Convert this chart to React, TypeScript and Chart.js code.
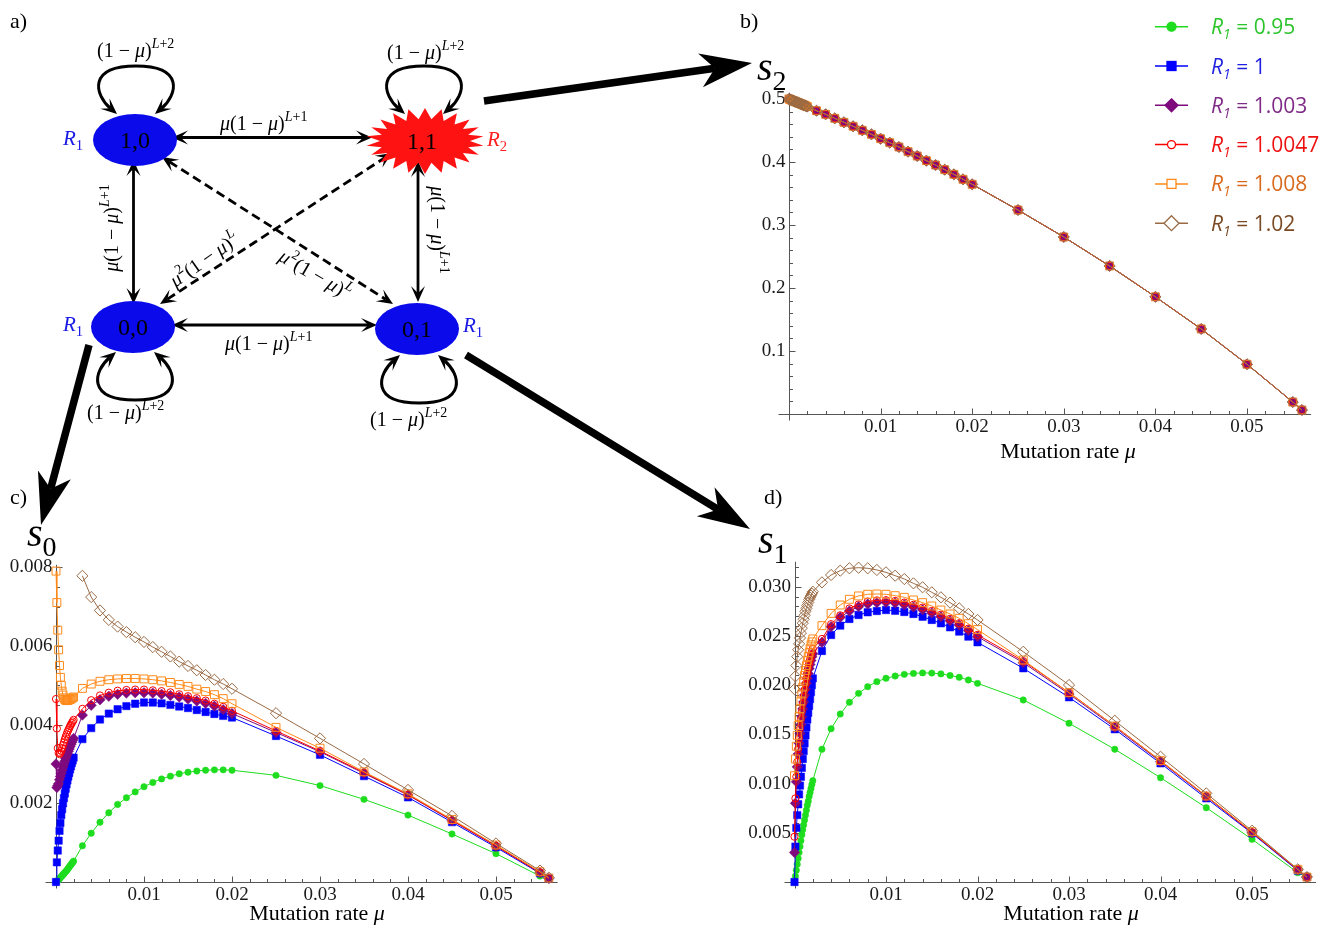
import React, { useEffect, useRef } from 'react';
import { Chart, registerables } from 'chart.js';

Chart.register(...registerables);

// ---------------- DATA ----------------
// mutation rate grid (shared by every series)
const MU = [
  0, 0.0001, 0.0002, 0.0003, 0.0004, 0.0005, 0.0006, 0.0007, 0.0008, 0.0009, 0.001,
  0.0011, 0.0012, 0.0013, 0.0014, 0.0015, 0.0016, 0.0017, 0.0018, 0.0019, 0.002,
  0.003, 0.004, 0.005, 0.006, 0.007, 0.008, 0.009, 0.01, 0.011, 0.012, 0.013, 0.014,
  0.015, 0.016, 0.017, 0.018, 0.019, 0.02,
  0.025, 0.03, 0.035, 0.04, 0.045, 0.05, 0.055, 0.056,
];

const SERIES_R1 = ['0.95', '1', '1.003', '1.0047', '1.008', '1.02'];

// panel b) s2 — all six series coincide
const S2_ALL = [
  0.5, 0.4994, 0.4988, 0.4982, 0.4976, 0.497, 0.4964, 0.4958, 0.4952, 0.4946, 0.494,
  0.4934, 0.4928, 0.4922, 0.4916, 0.491, 0.4904, 0.4898, 0.4892, 0.4886, 0.488,
  0.4814, 0.4757, 0.4693, 0.463, 0.4567, 0.4503, 0.4439, 0.437, 0.4307, 0.4238, 0.4164, 0.4095,
  0.4021, 0.3952, 0.3878, 0.3804, 0.3725, 0.3646,
  0.3238, 0.281, 0.235, 0.186, 0.135, 0.079, 0.019, 0.0063,
];

// panel c) s0
const S0_R095 = [
  0, 0.00002, 0.00004, 0.00006, 0.00009, 0.00011, 0.00014, 0.00016, 0.00019, 0.00021, 0.00024,
  0.00026, 0.00029, 0.00032, 0.00035, 0.00038, 0.00041, 0.00044, 0.00047, 0.0005, 0.00053,
  0.00092, 0.00124, 0.00152, 0.00176, 0.00197, 0.00214, 0.00229, 0.00242, 0.00253, 0.00262, 0.00269, 0.00275,
  0.00279, 0.00282, 0.00284, 0.00285, 0.00285, 0.00284,
  0.00271, 0.00245, 0.0021, 0.0017, 0.00122, 0.00072, 0.00015, 0.00008,
];
const S0_R1 = [
  0, 0.0005, 0.0008, 0.00105, 0.0013, 0.0015, 0.0017, 0.00185, 0.002, 0.00213, 0.00225,
  0.00237, 0.00248, 0.00258, 0.00268, 0.00277, 0.00286, 0.00294, 0.00302, 0.00309, 0.00316,
  0.00363, 0.00391, 0.00413, 0.00428, 0.00439, 0.00447, 0.00453, 0.00456, 0.00456, 0.00454, 0.0045, 0.00446,
  0.00442, 0.00437, 0.00432, 0.00427, 0.00422, 0.00418,
  0.00371, 0.00323, 0.00269, 0.00215, 0.00152, 0.00088, 0.00022, 0.00009,
];
const S0_R1003 = [
  0.003, 0.0024, 0.00245, 0.0025, 0.0026, 0.00268, 0.00276, 0.00284, 0.00292, 0.003, 0.00307,
  0.00314, 0.0032, 0.00326, 0.00332, 0.00338, 0.00344, 0.0035, 0.00355, 0.0036, 0.00365,
  0.00424, 0.00449, 0.00463, 0.00472, 0.00477, 0.0048, 0.00481, 0.00481, 0.0048, 0.00477, 0.00474, 0.0047,
  0.00465, 0.0046, 0.00454, 0.00447, 0.00438, 0.00428,
  0.0038, 0.00331, 0.00276, 0.00221, 0.00156, 0.00091, 0.00024, 0.00009,
];
const S0_R10047 = [
  0.00465, 0.0039, 0.0034, 0.00328, 0.00325, 0.00328, 0.00333, 0.0034, 0.00348, 0.00355, 0.00362,
  0.00369, 0.00375, 0.00381, 0.00386, 0.00391, 0.00396, 0.004, 0.00404, 0.00408, 0.00412,
  0.0044, 0.00462, 0.00474, 0.00481, 0.00486, 0.00488, 0.00489, 0.00489, 0.00487, 0.00485, 0.00482, 0.00477,
  0.00472, 0.00467, 0.00461, 0.00453, 0.00445, 0.00435,
  0.00384, 0.00333, 0.00278, 0.00222, 0.00157, 0.00092, 0.00024, 0.00009,
];
const S0_R1008 = [
  0.0079, 0.0071, 0.0064, 0.0059, 0.0055, 0.0052, 0.005, 0.00485, 0.00475, 0.00468, 0.00464,
  0.00462, 0.00461, 0.00461, 0.00462, 0.00463, 0.00464, 0.00465, 0.00467, 0.00468, 0.0047,
  0.00492, 0.00503, 0.0051, 0.00514, 0.00516, 0.00517, 0.00517, 0.00516, 0.00514, 0.00511, 0.00507, 0.00502,
  0.00497, 0.0049, 0.00484, 0.00476, 0.00466, 0.00453,
  0.00393, 0.0034, 0.0028, 0.00224, 0.00159, 0.00094, 0.00026, 0.0001,
];
const S0_R102 = [
  null, null, null, null, null, null, null, null, null, null, null,
  null, null, null, null, null, null, null, null, null, null,
  0.00778, 0.00724, 0.0069, 0.00666, 0.00649, 0.00635, 0.00622, 0.0061, 0.00597, 0.00585, 0.00573, 0.0056,
  0.00549, 0.00538, 0.00526, 0.00514, 0.00503, 0.00491,
  0.00429, 0.00365, 0.003, 0.00234, 0.00168, 0.00098, 0.00029, 0.00011,
];

// panel d) s1
const S1_R095 = [
  0, 0.0006, 0.0012, 0.0018, 0.0024, 0.003, 0.0036, 0.0042, 0.0048, 0.0053, 0.0058,
  0.0063, 0.0068, 0.0073, 0.0078, 0.0082, 0.0087, 0.0091, 0.0095, 0.0099, 0.0103,
  0.01349, 0.01558, 0.01707, 0.01826, 0.01917, 0.01985, 0.02036, 0.0207, 0.02093, 0.0211, 0.0212, 0.02125,
  0.02123, 0.02115, 0.02099, 0.0208, 0.02053, 0.02019,
  0.0185, 0.01613, 0.01349, 0.0106, 0.00755, 0.00434, 0.00095, 0.00048,
];
const S1_R1 = [
  0, 0.0036, 0.0055, 0.0068, 0.0079, 0.0089, 0.0098, 0.0107, 0.0116, 0.0125, 0.0133,
  0.0141, 0.0149, 0.0157, 0.0165, 0.0172, 0.0179, 0.0186, 0.0193, 0.02, 0.0207,
  0.02348, 0.0251, 0.02605, 0.02673, 0.02713, 0.02741, 0.02754, 0.02764, 0.02757, 0.02744, 0.02724, 0.02696,
  0.02663, 0.02629, 0.02588, 0.02544, 0.02493, 0.02436,
  0.02172, 0.01877, 0.01552, 0.01206, 0.0085, 0.00495, 0.00115, 0.0005,
];
const S1_R1003 = [
  0.003, 0.008, 0.0102, 0.0117, 0.013, 0.0141, 0.0151, 0.016, 0.0168, 0.0176, 0.0183,
  0.019, 0.0196, 0.0202, 0.0207, 0.0212, 0.0217, 0.0221, 0.0225, 0.0229, 0.0232,
  0.02436, 0.02595, 0.0269, 0.02754, 0.02798, 0.02825, 0.02839, 0.02842, 0.02835, 0.02818, 0.02795, 0.02767,
  0.02733, 0.02696, 0.02655, 0.02611, 0.02556, 0.02493,
  0.02229, 0.01911, 0.01572, 0.01223, 0.00867, 0.00501, 0.00122, 0.0005,
];
const S1_R10047 = [
  0.0046, 0.0085, 0.0107, 0.0122, 0.0135, 0.0146, 0.0156, 0.0165, 0.0173, 0.0181, 0.0188,
  0.0195, 0.0201, 0.0207, 0.0212, 0.0217, 0.0222, 0.0226, 0.023, 0.0234, 0.0237,
  0.0247, 0.0262, 0.0271, 0.0278, 0.0282, 0.0285, 0.02862, 0.02864, 0.02857, 0.0284, 0.02817, 0.02789,
  0.02755, 0.02717, 0.02675, 0.0263, 0.02575, 0.02512,
  0.02245, 0.01925, 0.01585, 0.01232, 0.00874, 0.00505, 0.00124, 0.0005,
];
const S1_R1008 = [
  0.0108, 0.0125, 0.0138, 0.0149, 0.0159, 0.0168, 0.0176, 0.0184, 0.0191, 0.0198, 0.0204,
  0.021, 0.0215, 0.022, 0.0225, 0.0229, 0.0233, 0.0237, 0.0241, 0.0244, 0.0247,
  0.02605, 0.0273, 0.02815, 0.02873, 0.02907, 0.02924, 0.02927, 0.02924, 0.0291, 0.02893, 0.02866, 0.02839,
  0.02805, 0.02764, 0.02724, 0.0268, 0.02625, 0.02565,
  0.02256, 0.01924, 0.01585, 0.01233, 0.00874, 0.00511, 0.00129, 0.0005,
];
const S1_R102 = [
  0.0196, 0.0209, 0.022, 0.0229, 0.0236, 0.0242, 0.0248, 0.0253, 0.0258, 0.0263, 0.0267,
  0.0271, 0.0275, 0.0278, 0.0281, 0.0284, 0.0287, 0.0289, 0.0291, 0.0293, 0.0295,
  0.03045, 0.0312, 0.03164, 0.03188, 0.03194, 0.03188, 0.03171, 0.03147, 0.03113, 0.03079, 0.03035, 0.02995,
  0.02944, 0.02893, 0.02839, 0.02781, 0.02724, 0.02663,
  0.0234, 0.02002, 0.01639, 0.01273, 0.00901, 0.00521, 0.00129, 0.0005,
];

// ticks
const X_TICKS = [0.01, 0.02, 0.03, 0.04, 0.05];
const X_TICK_LABELS = ['0.01', '0.02', '0.03', '0.04', '0.05'];
const X_MINOR_TICKS = [0.002, 0.004, 0.006, 0.008, 0.012, 0.014, 0.016, 0.018, 0.022, 0.024, 0.026, 0.028,
  0.032, 0.034, 0.036, 0.038, 0.042, 0.044, 0.046, 0.048, 0.052, 0.054, 0.056];

const S2_TICKS = [0.1, 0.2, 0.3, 0.4, 0.5];
const S2_TICK_LABELS = ['0.1', '0.2', '0.3', '0.4', '0.5'];
const S2_MINOR_TICKS = [0.02, 0.04, 0.06, 0.08, 0.12, 0.14, 0.16, 0.18, 0.22, 0.24, 0.26, 0.28,
  0.32, 0.34, 0.36, 0.38, 0.42, 0.44, 0.46, 0.48];

const S0_TICKS = [0.002, 0.004, 0.006, 0.008];
const S0_TICK_LABELS = ['0.002', '0.004', '0.006', '0.008'];
const S0_MINOR_TICKS = [0.0005, 0.001, 0.0015, 0.0025, 0.003, 0.0035, 0.0045, 0.005, 0.0055, 0.0065, 0.007, 0.0075];

const S1_TICKS = [0.005, 0.01, 0.015, 0.02, 0.025, 0.03];
const S1_TICK_LABELS = ['0.005', '0.010', '0.015', '0.020', '0.025', '0.030'];
const S1_MINOR_TICKS = [0.001, 0.002, 0.003, 0.004, 0.006, 0.007, 0.008, 0.009, 0.011, 0.012, 0.013, 0.014,
  0.016, 0.017, 0.018, 0.019, 0.021, 0.022, 0.023, 0.024, 0.026, 0.027, 0.028, 0.029, 0.031, 0.032];

// ---------------- STYLES ----------------
const STYLES = [
  { color: '#1EDC1E', text: '#2CC42C', shape: 'circle', r: 3.2, filled: true },
  { color: '#0000FF', text: '#1F1FE0', shape: 'rect', r: 5.2, filled: true },
  { color: '#7E0A7E', text: '#7E2A86', shape: 'rectRot', r: 5.2, filled: true },
  { color: '#FF0000', text: '#EE1111', shape: 'circle', r: 3.6, filled: false },
  { color: '#FF8A1A', text: '#D96A1E', shape: 'rect', r: 5.6, filled: false },
  { color: '#9A6A44', text: '#7A4A24', shape: 'rectRot', r: 5.6, filled: false },
];

const SERIF = "'Liberation Serif', 'Times New Roman', serif";
const SANS = "'Open Sans', 'DejaVu Sans', sans-serif";

// Mathematica-like axes through the origin, ticks pointing into the plot
const mmaAxes = {
  id: 'mmaAxes',
  beforeDatasetsDraw(chart: any, _a: any, opts: any) {
    const { ctx, chartArea: a } = chart;
    const xs = chart.scales.x;
    const ys = chart.scales.y;
    const X0 = Math.round(xs.getPixelForValue(0)) + 0.5;
    const Y0 = Math.round(ys.getPixelForValue(0)) + 0.5;
    ctx.save();
    ctx.strokeStyle = '#555';
    ctx.lineWidth = 1;
    ctx.beginPath();
    ctx.moveTo(X0 - 11, Y0);
    ctx.lineTo(a.right, Y0);
    ctx.moveTo(X0, Y0 + 6);
    ctx.lineTo(X0, a.top);
    const tick = (vals: number[], len: number, horiz: boolean) => {
      for (const v of vals) {
        if (horiz) {
          const p = Math.round(xs.getPixelForValue(v)) + 0.5;
          ctx.moveTo(p, Y0);
          ctx.lineTo(p, Y0 - len);
        } else {
          const p = Math.round(ys.getPixelForValue(v)) + 0.5;
          ctx.moveTo(X0, p);
          ctx.lineTo(X0 + len, p);
        }
      }
    };
    tick(opts.xMajor, 6, true);
    tick(opts.xMinor, 3.5, true);
    tick(opts.yMajor, 6, false);
    tick(opts.yMinor, 3.5, false);
    ctx.stroke();
    ctx.restore();
  },
};

function makeDatasets(series: (number | null)[][]) {
  return series.map((vals, i) => {
    const st = STYLES[i];
    return {
      label: 'R1 = ' + SERIES_R1[i],
      data: MU.map((m, k) => ({ x: m, y: vals[k] })),
      borderColor: st.color,
      borderWidth: 1,
      pointStyle: st.shape,
      pointRadius: st.r,
      pointBackgroundColor: st.filled ? st.color : 'rgba(255,255,255,0)',
      pointBorderColor: st.color,
      pointBorderWidth: st.filled ? 0.5 : 1,
      order: 6 - i,
      tension: 0,
      fill: false,
      spanGaps: false,
      clip: { left: 8, top: 0, right: 8, bottom: 8 },
    };
  });
}

type Spec = {
  canvas: { left: number; top: number; w: number; h: number };
  area: { l: number; t: number; r: number; b: number };
  xMax: number;
  yMax: number;
  yTicks: number[];
  yLabels: string[];
  yMinor: number[];
  series: (number | null)[][];
};

const Y_BOX = 52; // width reserved for y tick labels
const X_BOX = 30; // height reserved for x tick labels

function buildConfig(s: Spec): any {
  const c = s.canvas;
  return {
    type: 'line',
    data: { datasets: makeDatasets(s.series) },
    options: {
      animation: false,
      responsive: false,
      devicePixelRatio: 1,
      layout: {
        padding: {
          left: s.area.l - Y_BOX - c.left,
          top: s.area.t - c.top,
          right: c.left + c.w - s.area.r,
          bottom: c.top + c.h - s.area.b - X_BOX,
        },
      },
      plugins: {
        legend: { display: false },
        tooltip: { enabled: false },
        mmaAxes: { xMajor: X_TICKS, xMinor: X_MINOR_TICKS, yMajor: s.yTicks, yMinor: s.yMinor },
      },
      scales: {
        x: {
          type: 'linear',
          min: 0,
          max: s.xMax,
          grid: { display: false, drawTicks: false },
          border: { display: false },
          afterBuildTicks: (sc: any) => { sc.ticks = X_TICKS.map((v) => ({ value: v })); },
          afterFit: (sc: any) => { sc.height = X_BOX; },
          ticks: {
            autoSkip: false,
            maxRotation: 0,
            padding: 1.5,
            color: '#1a1a1a',
            font: { family: SERIF, size: 19 },
            callback: (_v: any, i: number) => X_TICK_LABELS[i],
          },
        },
        y: {
          type: 'linear',
          min: 0,
          max: s.yMax,
          grid: { display: false, drawTicks: false },
          border: { display: false },
          afterBuildTicks: (sc: any) => { sc.ticks = s.yTicks.map((v) => ({ value: v })); },
          afterFit: (sc: any) => { sc.width = Y_BOX; },
          ticks: {
            autoSkip: false,
            padding: 3.5,
            color: '#1a1a1a',
            font: { family: SERIF, size: 19 },
            callback: (_v: any, i: number) => s.yLabels[i],
          },
        },
      },
    },
    plugins: [mmaAxes],
  };
}

const PANEL_B: Spec = {
  canvas: { left: 700, top: 40, w: 631, h: 440 },
  area: { l: 789, t: 92.7, r: 1311.1, b: 414 },
  xMax: 0.057, yMax: 0.51,
  yTicks: S2_TICKS, yLabels: S2_TICK_LABELS, yMinor: S2_MINOR_TICKS,
  series: [S2_ALL, S2_ALL, S2_ALL, S2_ALL, S2_ALL, S2_ALL],
};
const PANEL_C: Spec = {
  canvas: { left: 0, top: 520, w: 600, h: 405 },
  area: { l: 56, t: 564.8, r: 557.6, b: 882 },
  xMax: 0.057, yMax: 0.00806,
  yTicks: S0_TICKS, yLabels: S0_TICK_LABELS, yMinor: S0_MINOR_TICKS,
  series: [S0_R095, S0_R1, S0_R1003, S0_R10047, S0_R1008, S0_R102],
};
const PANEL_D: Spec = {
  canvas: { left: 720, top: 520, w: 611, h: 405 },
  area: { l: 794.5, t: 561.7, r: 1316.1, b: 882 },
  xMax: 0.057, yMax: 0.03255,
  yTicks: S1_TICKS, yLabels: S1_TICK_LABELS, yMinor: S1_MINOR_TICKS,
  series: [S1_R095, S1_R1, S1_R1003, S1_R10047, S1_R1008, S1_R102],
};

function ChartPanel({ spec }: { spec: Spec }) {
  const ref = useRef<HTMLCanvasElement | null>(null);
  useEffect(() => {
    const chart = new Chart(ref.current as HTMLCanvasElement, buildConfig(spec));
    return () => chart.destroy();
  }, [spec]);
  const c = spec.canvas;
  return (
    <canvas
      ref={ref}
      width={c.w}
      height={c.h}
      style={{ position: 'absolute', left: c.left, top: c.top, width: c.w, height: c.h }}
    />
  );
}

// ---------------- DIAGRAM HELPERS ----------------
function headPts(tx: number, ty: number, ang: number, L: number, W: number, k: number) {
  const dx = Math.cos(ang), dy = Math.sin(ang);
  const nx = -dy, ny = dx;
  const bx = tx - L * dx, by = ty - L * dy;
  const f = (v: number) => v.toFixed(2);
  return `${f(tx)},${f(ty)} ${f(bx + W * nx)},${f(by + W * ny)} ${f(tx - k * L * dx)},${f(ty - k * L * dy)} ${f(bx - W * nx)},${f(by - W * ny)}`;
}

function DoubleArrow({ x1, y1, x2, y2, dashed }: any) {
  const a = Math.atan2(y2 - y1, x2 - x1);
  const L = 16, W = 7, k = 0.55;
  const dx = Math.cos(a), dy = Math.sin(a);
  return (
    <g>
      <line x1={x1 + k * L * dx} y1={y1 + k * L * dy} x2={x2 - k * L * dx} y2={y2 - k * L * dy}
        stroke="#000" strokeWidth={2.8} strokeDasharray={dashed ? '9 5' : undefined} />
      <polygon points={headPts(x2, y2, a, L, W, k)} fill="#000" />
      <polygon points={headPts(x1, y1, a + Math.PI, L, W, k)} fill="#000" />
    </g>
  );
}

function BigArrow({ x1, y1, x2, y2 }: any) {
  const a = Math.atan2(y2 - y1, x2 - x1);
  const L = 52, W = 17, k = 0.72;
  return (
    <g>
      <line x1={x1} y1={y1} x2={x2 - k * L * Math.cos(a)} y2={y2 - k * L * Math.sin(a)} stroke="#000" strokeWidth={7.5} />
      <polygon points={headPts(x2, y2, a, L, W, k)} fill="#000" />
    </g>
  );
}

function SelfLoop({ cx, ye, s }: any) {
  // s = -1 loop above, +1 loop below
  const E1 = [cx - 18, ye], P1 = [cx - 40, ye + s * 19], P2 = [cx - 48, ye + s * 48];
  const M = [cx + 1, ye + s * 48], P3 = [cx + 50, ye + s * 48], P4 = [cx + 42, ye + s * 19], E2 = [cx + 20, ye];
  const L = 16, W = 7, k = 0.55;
  const a1 = Math.atan2(E1[1] - P1[1], E1[0] - P1[0]);
  const a2 = Math.atan2(E2[1] - P4[1], E2[0] - P4[0]);
  const e1 = [E1[0] - k * L * Math.cos(a1), E1[1] - k * L * Math.sin(a1)];
  const e2 = [E2[0] - k * L * Math.cos(a2), E2[1] - k * L * Math.sin(a2)];
  const d = `M ${e1[0]} ${e1[1]} C ${P1[0]} ${P1[1]} ${P2[0]} ${P2[1]} ${M[0]} ${M[1]} C ${P3[0]} ${P3[1]} ${P4[0]} ${P4[1]} ${e2[0]} ${e2[1]}`;
  return (
    <g>
      <path d={d} fill="none" stroke="#000" strokeWidth={3} />
      <polygon points={headPts(E1[0], E1[1], a1, L, W, k)} fill="#000" />
      <polygon points={headPts(E2[0], E2[1], a2, L, W, k)} fill="#000" />
    </g>
  );
}

function starPoints(cx: number, cy: number, Rx: number, Ry: number, rx: number, ry: number, n: number) {
  const pts: string[] = [];
  for (let i = 0; i < 2 * n; i++) {
    const a = -Math.PI / 2 + (i * Math.PI) / n;
    const o = i % 2 === 0;
    pts.push(`${(cx + (o ? Rx : rx) * Math.cos(a)).toFixed(1)},${(cy + (o ? Ry : ry) * Math.sin(a)).toFixed(1)}`);
  }
  return pts.join(' ');
}

type Part = { t: string; it?: boolean; sup?: boolean; sub?: boolean };

function MathText({ x, y, parts, size = 20, anchor = 'start', rotate = 0, fill = '#000', family = SERIF }: any) {
  let cur = 0;
  return (
    <text x={x} y={y} fontFamily={family} fontSize={size} textAnchor={anchor} fill={fill}
      style={{ whiteSpace: 'pre' }}
      transform={rotate ? `rotate(${rotate} ${x} ${y})` : undefined}>
      {(parts as Part[]).map((p, i) => {
        const target = p.sup ? -size * 0.45 : p.sub ? size * 0.25 : 0;
        const dy = target - cur;
        cur = target;
        return (
          <tspan key={i} dy={dy !== 0 ? dy : undefined} fontStyle={p.it ? 'italic' : 'normal'}
            fontSize={p.sup || p.sub ? size * 0.7 : size}>{p.t}</tspan>
        );
      })}
    </text>
  );
}

const LOOP_LABEL: Part[] = [{ t: '(1 − ' }, { t: 'μ', it: true }, { t: ')' }, { t: 'L', it: true, sup: true }, { t: '+2', sup: true }];
const EDGE_LABEL: Part[] = [{ t: 'μ', it: true }, { t: '(1 − ' }, { t: 'μ', it: true }, { t: ')' }, { t: 'L', it: true, sup: true }, { t: '+1', sup: true }];
const DIAG_LABEL: Part[] = [{ t: 'μ', it: true }, { t: '2', sup: true }, { t: '(1 − ' }, { t: 'μ', it: true }, { t: ')' }, { t: 'L', it: true, sup: true }];

function LegendMarker({ i, x, y }: any) {
  const st = STYLES[i];
  const fill = st.filled ? st.color : '#fff';
  if (st.shape === 'circle') return <circle cx={x} cy={y} r={st.filled ? 4.5 : 4} fill={fill} stroke={st.color} strokeWidth={1.3} />;
  if (st.shape === 'rect') return <rect x={x - 4.5} y={y - 4.5} width={9} height={9} fill={fill} stroke={st.color} strokeWidth={1.3} />;
  const h = st.filled ? 6.5 : 7.5;
  return <polygon points={`${x},${y - h} ${x + h},${y} ${x},${y + h} ${x - h},${y}`} fill={fill} stroke={st.color} strokeWidth={1.3} />;
}

function Overlay() {
  const nodeBlue = '#0A0AEB';
  const rows = SERIES_R1.map((r, i) => ({ r, i, y: 26.7 + 39.3 * i }));
  return (
    <svg width={1331} height={925} style={{ position: 'absolute', left: 0, top: 0, pointerEvents: 'none' }}>
      {/* panel letters */}
      <text x={10} y={28} fontFamily={SERIF} fontSize={22}>a)</text>
      <text x={740} y={28} fontFamily={SERIF} fontSize={22}>b)</text>
      <text x={10} y={504} fontFamily={SERIF} fontSize={22}>c)</text>
      <text x={764} y={504} fontFamily={SERIF} fontSize={22}>d)</text>

      {/* y-axis symbols */}
      <MathText x={757} y={80} size={40} parts={[{ t: 's', it: true }, { t: '2', sub: true }]} />
      <MathText x={27} y={546} size={40} parts={[{ t: 's', it: true }, { t: '0', sub: true }]} />
      <MathText x={758} y={553} size={40} parts={[{ t: 's', it: true }, { t: '1', sub: true }]} />

      {/* axis titles */}
      <MathText x={1068} y={458} size={22} anchor="middle" parts={[{ t: 'Mutation rate ' }, { t: 'μ', it: true }]} />
      <MathText x={317} y={920} size={22} anchor="middle" parts={[{ t: 'Mutation rate ' }, { t: 'μ', it: true }]} />
      <MathText x={1071} y={920} size={22} anchor="middle" parts={[{ t: 'Mutation rate ' }, { t: 'μ', it: true }]} />

      {/* legend */}
      {rows.map(({ r, i, y }) => (
        <g key={i}>
          <line x1={1155} y1={y} x2={1188} y2={y} stroke={STYLES[i].color} strokeWidth={1.5} />
          <LegendMarker i={i} x={1171.5} y={y} />
          <text x={1211} y={y + 7.5} fontFamily={SANS} fontSize={21} fill={STYLES[i].text} style={{ whiteSpace: 'pre' }}>
            <tspan fontStyle="italic">R</tspan>
            <tspan fontStyle="italic" fontSize={14} dy={5}>1</tspan>
            <tspan dy={-5}>{' = ' + r}</tspan>
          </text>
        </g>
      ))}

      {/* diagram edges */}
      <DoubleArrow x1={172} y1={137.5} x2={372} y2={137.5} />
      <DoubleArrow x1={172} y1={325} x2={377} y2={325} />
      <DoubleArrow x1={133.5} y1={160} x2={133.5} y2={304} />
      <DoubleArrow x1={418} y1={161} x2={418} y2={302} />
      <DoubleArrow x1={162} y1={157} x2={393} y2={304} dashed />
      <DoubleArrow x1={160} y1={304} x2={392} y2={153} dashed />

      {/* nodes */}
      <ellipse cx={135} cy={140} rx={42} ry={26} fill={nodeBlue} />
      <ellipse cx={133} cy={327} rx={42} ry={26} fill={nodeBlue} />
      <ellipse cx={417} cy={329} rx={42} ry={26} fill={nodeBlue} />
      <polygon points={starPoints(425, 141, 59, 33, 45, 22, 22)} fill="#FF1212" />
      <text x={135} y={148} fontFamily={SERIF} fontSize={24} textAnchor="middle">1,0</text>
      <text x={133} y={335} fontFamily={SERIF} fontSize={24} textAnchor="middle">0,0</text>
      <text x={417} y={337} fontFamily={SERIF} fontSize={24} textAnchor="middle">0,1</text>
      <text x={422} y={149} fontFamily={SERIF} fontSize={24} textAnchor="middle">1,1</text>

      {/* self loops */}
      <SelfLoop cx={135} ye={114} s={-1} />
      <SelfLoop cx={423} ye={114} s={-1} />
      <SelfLoop cx={134} ye={352} s={1} />
      <SelfLoop cx={418} ye={355} s={1} />

      {/* state rates */}
      <MathText x={63} y={145} size={21} fill="#1A1AE6" parts={[{ t: 'R', it: true }, { t: '1', sub: true }]} />
      <MathText x={63} y={331} size={21} fill="#1A1AE6" parts={[{ t: 'R', it: true }, { t: '1', sub: true }]} />
      <MathText x={463} y={332} size={21} fill="#1A1AE6" parts={[{ t: 'R', it: true }, { t: '1', sub: true }]} />
      <MathText x={487} y={146} size={21} fill="#FF2020" parts={[{ t: 'R', it: true }, { t: '2', sub: true }]} />

      {/* transition labels */}
      <MathText x={97} y={57} parts={LOOP_LABEL} />
      <MathText x={387} y={59} parts={LOOP_LABEL} />
      <MathText x={87} y={419} parts={LOOP_LABEL} />
      <MathText x={370} y={426} parts={LOOP_LABEL} />
      <MathText x={220} y={130} parts={EDGE_LABEL} />
      <MathText x={225} y={350} parts={EDGE_LABEL} />
      <MathText x={118} y={228} anchor="middle" rotate={-90} parts={EDGE_LABEL} />
      <MathText x={431} y={230} anchor="middle" rotate={90} parts={EDGE_LABEL} />
      <MathText x={208} y={265} anchor="middle" rotate={-35} parts={DIAG_LABEL} />
      <MathText x={312} y={280} anchor="middle" rotate={30} parts={DIAG_LABEL} />

      {/* big arrows to the panels */}
      <BigArrow x1={484} y1={101} x2={752} y2={63} />
      <BigArrow x1={89} y1={345} x2={41} y2={525} />
      <BigArrow x1={466} y1={355} x2={750} y2={529} />
    </svg>
  );
}

export default function App() {
  return (
    <div style={{ position: 'absolute', left: 0, top: 0, width: 1331, height: 925, background: '#fff', overflow: 'hidden' }}>
      <ChartPanel spec={PANEL_B} />
      <ChartPanel spec={PANEL_C} />
      <ChartPanel spec={PANEL_D} />
      <Overlay />
    </div>
  );
}
